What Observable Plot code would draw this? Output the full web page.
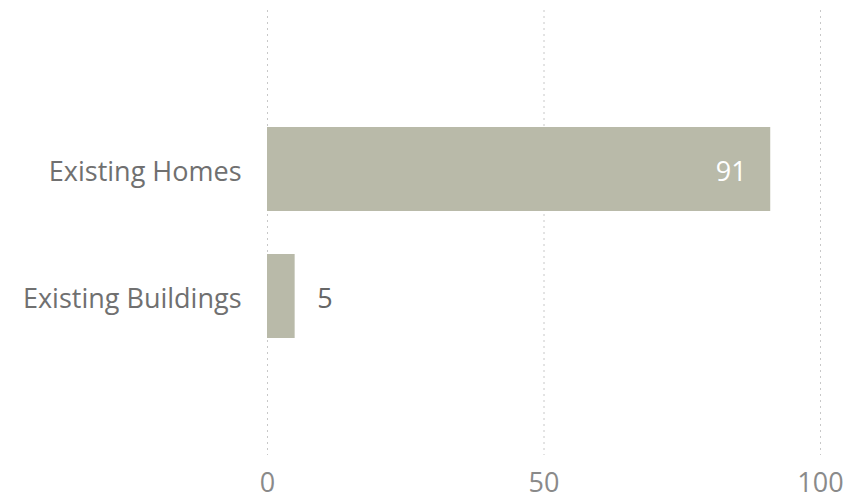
<!DOCTYPE html>
<html>
<head>
<meta charset="utf-8">
<script src="https://cdn.jsdelivr.net/npm/d3@7"></script>
<script src="https://cdn.jsdelivr.net/npm/@observablehq/plot@0.6"></script>
<style>
  html, body { margin: 0; padding: 0; background: #fff; }
  #chart svg { display: block; }
</style>
</head>
<body>
<div id="chart"></div>
<script>
const categories = ["Existing Homes", "Existing Buildings"];
const values = [91, 5];
const xTicks = [0, 50, 100];

const data = categories.map((c, i) => ({category: c, value: values[i]}));
const barColor = "#b9baa9";
const font = "'Open Sans', 'Noto Sans', sans-serif";

const chart = Plot.plot({
  width: 846,
  height: 503,
  marginTop: 10,
  marginBottom: 48,
  marginLeft: 267,
  marginRight: 26,
  style: {fontFamily: font, background: "#fff"},
  x: {domain: [0, 100], ticks: xTicks},
  y: {domain: categories, range: [83, 381], padding: 0.34},
  marks: [
    Plot.gridX(xTicks, {stroke: "#c8c8c8", strokeOpacity: 1, strokeDasharray: "2,4", strokeWidth: 1}),
    Plot.barX(data, {x: "value", y: "category", fill: barColor}),
    Plot.text(data.filter(d => d.value > 20), {x: "value", y: "category", text: d => String(d.value), textAnchor: "end", dx: -24, dy: 3, fill: "#fff", fontSize: 27}),
    Plot.text(data.filter(d => d.value <= 20), {x: "value", y: "category", text: d => String(d.value), textAnchor: "start", dx: 22, dy: 3, fill: "#666", fontSize: 27}),
    Plot.axisX({ticks: xTicks, tickSize: 0, tickPadding: 17, label: null, fontSize: 27, color: "#8a8a8a"}),
    Plot.axisY({tickSize: 0, tickPadding: 26, dy: 3, label: null, fontSize: 27, color: "#707070"})
  ]
});
document.getElementById("chart").appendChild(chart);
</script>
</body>
</html>
